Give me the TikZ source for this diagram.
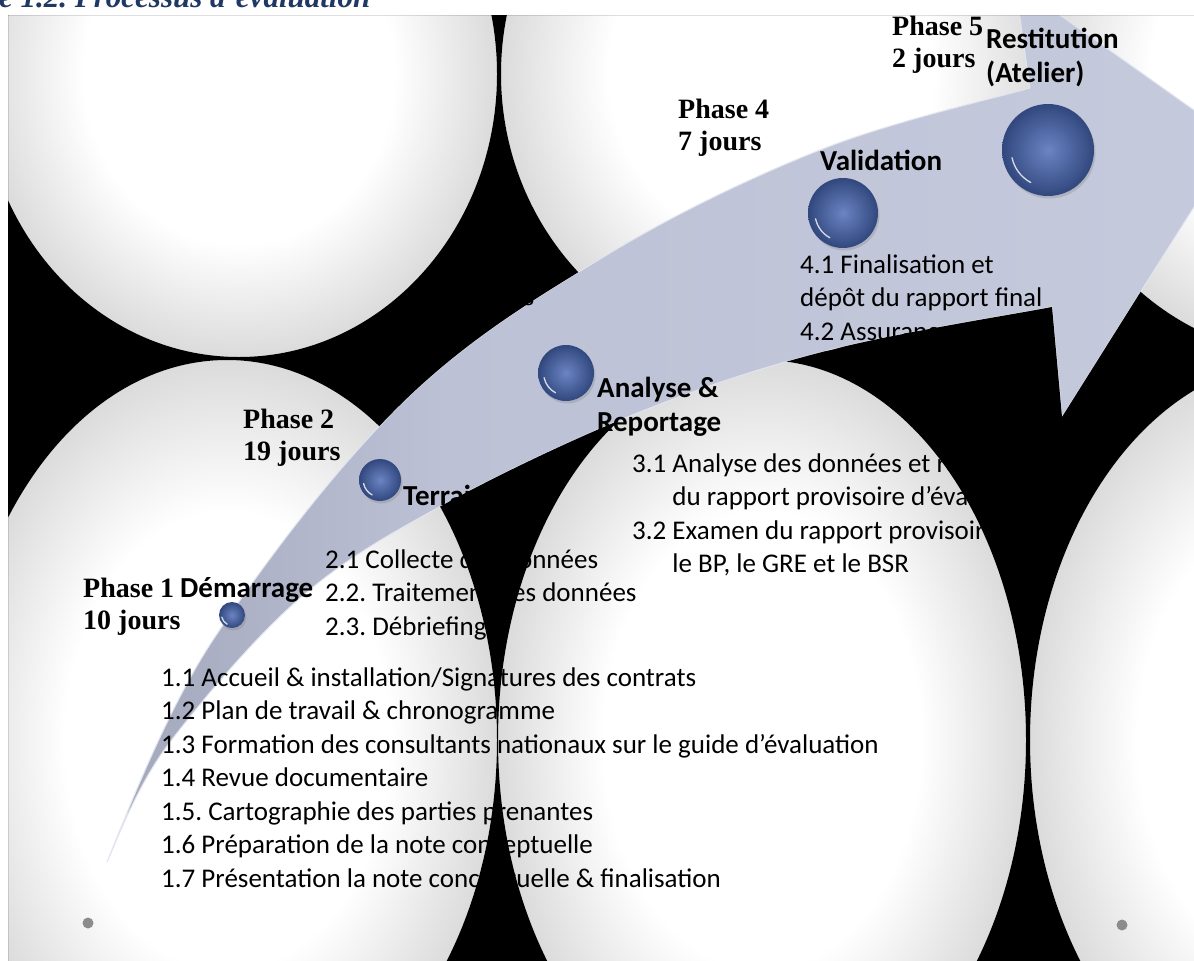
\documentclass[tikz,border=0pt]{standalone}
\usepackage{fontspec}
\setmainfont{Liberation Serif}
\newfontfamily\calibrifont{Carlito}
\usetikzlibrary{positioning,shadows}
\frenchspacing

\definecolor{navy}    {HTML}{1F3864}
\definecolor{orbblue} {HTML}{4666B4}
\definecolor{bandlo}  {HTML}{A2A7BB}
\definecolor{bandmid} {HTML}{BCC1D5}
\definecolor{bandhi}  {HTML}{C6CADD}
\definecolor{bandedge}{HTML}{E2E5EF}
\definecolor{dotgray} {HTML}{8C8C8C}
\colorlet{discedge}{black!14}

\pgfdeclareradialshading{disc}{\pgfpoint{0bp}{0bp}}{color(0bp)=(white); color(15bp)=(white); color(25bp)=(discedge); color(50bp)=(discedge)}
\pgfdeclarehorizontalshading{bandfade}{100bp}{color(0bp)=(bandlo); color(25bp)=(bandlo); color(40bp)=(bandmid); color(75bp)=(bandhi); color(100bp)=(bandhi)}

% centre x / centre y / x radius / y radius of the background discs
\newcommand\disclist{239/74/258/283, 771/74/270/283, 1313/74/270/283,
                     227/740/270/380, 762/740/264/380, 1300/740/270/380}
% outline of the bent arrow
\newcommand\bandoutline{(107,862) .. controls (122,826) and (164,714.2) .. (213,640)
  .. controls (262,565.8) and (335.5,468.5) .. (400,405)
  .. controls (464.5,341.5) and (530,301.5) .. (600,259)
  .. controls (670,216.5) and (748.3,178.5) .. (820,150)
  .. controls (891.7,121.5) and (995,98.3) .. (1030,88)
  -- (1015,-17) -- (1236,140) -- (1062,417) -- (1052,307)
  .. controls (1015,314.2) and (898.7,332.5) .. (830,350)
  .. controls (761.3,367.5) and (704.5,386.2) .. (640,412)
  .. controls (575.5,437.8) and (499.7,474) .. (443,505)
  .. controls (386.3,536) and (345.5,558.5) .. (300,598)
  .. controls (254.5,637.5) and (202.3,700) .. (170,742)
  .. controls (137.7,784) and (117,840) .. (107,862) -- cycle}

\tikzset{
  every node/.style={inner sep=0pt},
  % --- labels
  phaselbl/.style  = {anchor=north west, align=left, font=\fontsize{28}{32}\selectfont\bfseries},
  stagelbl/.style  = {anchor=north west, align=left, font=\calibrifont\fontsize{29}{34.5}\selectfont\bfseries},
  tasklist/.style  = {anchor=north west, align=left, font=\calibrifont\fontsize{27}{33.5}\selectfont},
  figcaption/.style= {anchor=base west, font=\fontsize{31}{37}\selectfont\bfseries\itshape, text=navy},
  % --- marks
  orb/.style       = {circle, minimum size=#1, inner color=orbblue!80!white, outer color=orbblue!70!black,
                      drop shadow={shadow xshift=1.5pt, shadow yshift=-2.5pt, opacity=.3}},
  glint/.style     = {draw=white, line width=1.3pt, opacity=.8, line cap=round},
  dotmark/.style   = {circle, fill=dotgray, minimum size=11pt},
}

\begin{document}
\begin{tikzpicture}[x=1pt, y=-1pt]
  \useasboundingbox (0,0) rectangle (1194,961);
  \fill[white] (0,0) rectangle (1194,961);
  \begin{scope}
    \clip (0,0) rectangle (1194,961);
    \node[figcaption] (title) at (-1,7) {e 1.2. Processus d’évaluation};
  \end{scope}

  \begin{scope}
    \clip (8,15) rectangle (1194,961);
    % --- background discs
    \foreach \cx/\cy/\rx/\ry in \disclist
      \shade[shading=disc] (\cx,\cy) ellipse [x radius=\rx, y radius=\ry];

    % --- the bent arrow
    \shadedraw[shading=bandfade, draw=bandedge, line width=1pt] \bandoutline;

    % --- orbs along the arrow
    \foreach \n/\x/\y/\d in {1/232/615/26, 2/380/480/42, 3/566/373/56, 4/843/213/70, 5/1048/150/92}{
      \node[orb=\d] (s\n) at (\x,\y) {};
      \draw[glint] (s\n.center) ++(118:0.4*\d) arc[start angle=118, end angle=168, radius=0.4*\d];
    }

    % --- phases
    \node[phaselbl] (ph1) at (83,574.6)  {\strut Phase 1\\10 jours};
    \node[stagelbl] (st1) at (180,572.85) {\strut Démarrage};
    \node[phaselbl] (ph2) at (243,405.6)  {\strut Phase 2\\19 jours};
    \node[stagelbl] (st2) at (403,480.85) {\strut Terrain};
    \node[phaselbl] (ph3) at (523,282.6)  {\strut s};
    \node[stagelbl] (st3) at (597,372.85) {\strut Analyse \&\\Reportage};
    \node[phaselbl] (ph4) at (678,95.6)   {\strut Phase 4\\7 jours};
    \node[stagelbl] (st4) at (820,145.85) {\strut Validation};
    \node[phaselbl] (ph5) at (892,12.6)   {\strut Phase 5\\2 jours};
    \node[stagelbl] (st5) at (986,23.85)  {\strut Restitution\\(Atelier)};

    % --- tasks
    \node[tasklist] (t1) at (161,662.5) {\strut 1.1 Accueil \& installation/Signatures des contrats\\
      1.2 Plan de travail \& chronogramme\\
      1.3 Formation des consultants nationaux sur le guide d’évaluation\\
      1.4 Revue documentaire\\
      1.5. Cartographie des parties prenantes\\
      1.6 Préparation de la note conceptuelle\\
      1.7 Présentation la note conceptuelle \& finalisation};
    \node[tasklist] (t2) at (325,544.5) {\strut 2.1 Collecte des données\\
      2.2. Traitement des données\\
      2.3. Débriefing};
    \node[tasklist] (t3) at (632,448.5) {\strut 3.1 Analyse des données et rédaction\\
      \hphantom{3.1 }du rapport provisoire d’évaluation\\
      3.2 Examen du rapport provisoire\\
      \hphantom{3.1 }le BP, le GRE et le BSR};
    \node[tasklist] (t4) at (800,249.5) {\strut 4.1 Finalisation et\\
      dépôt du rapport final\\
      4.2 Assurance};

    \node[dotmark] (dotL) at (88,923) {};
    \node[dotmark] (dotR) at (1122,925) {};

    % --- black gaps between the discs (not over the arrow)
    \begin{scope}[even odd rule]
      \clip (8,15) rectangle (1194,961) \bandoutline;
      \fill[black] (8,15) rectangle (1194,961)
        foreach \cx/\cy/\rx/\ry in \disclist {(\cx,\cy) ellipse [x radius=\rx, y radius=\ry]};
    \end{scope}
  \end{scope}
\end{tikzpicture}
\end{document}
